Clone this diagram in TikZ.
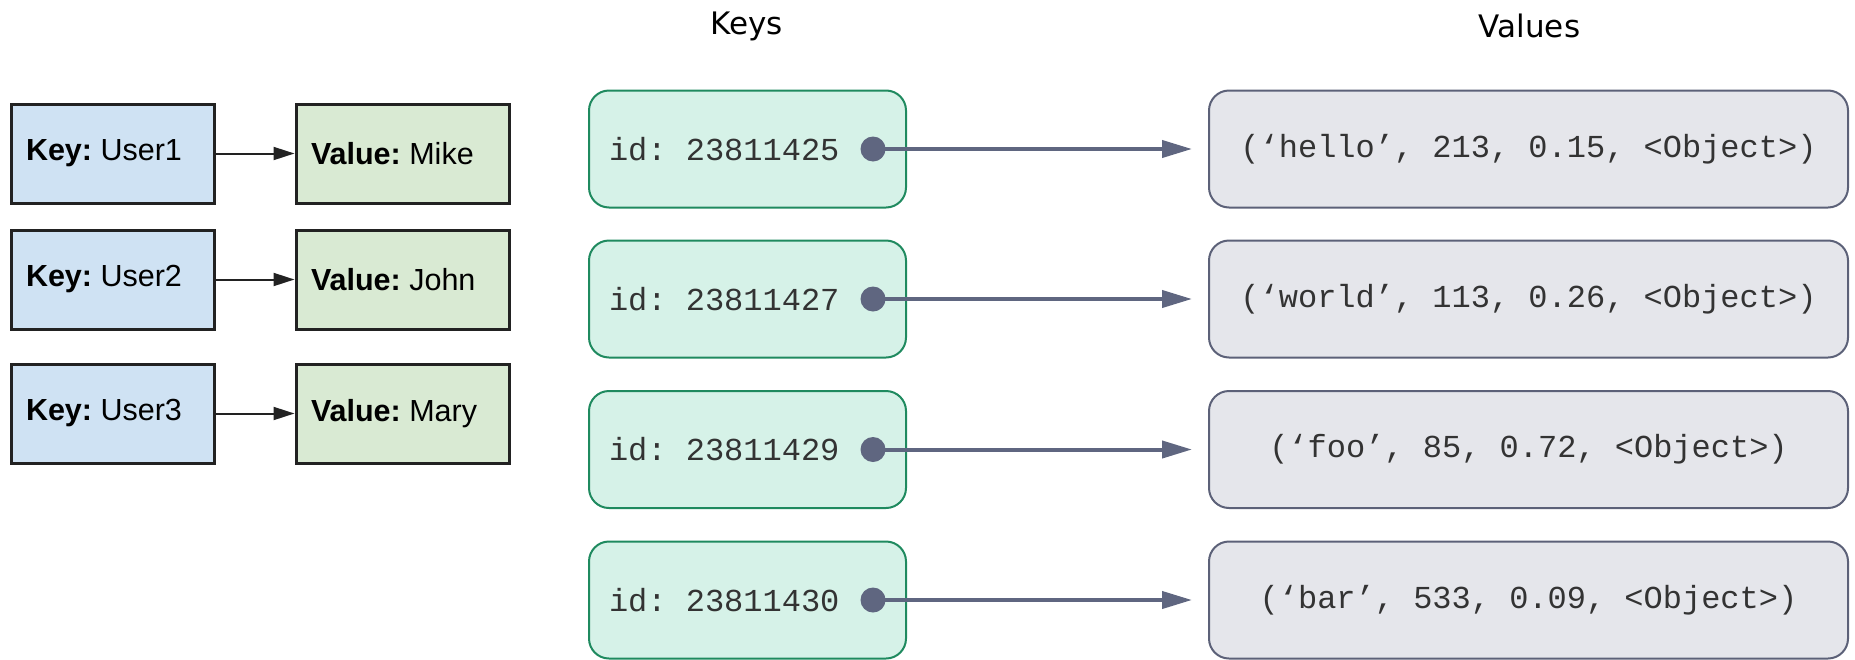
\documentclass[tikz,border=0pt]{standalone}
\usepackage{fontspec}
\setmainfont{Liberation Sans}
\newfontfamily\monofont{Liberation Mono}
\newfontfamily\headfont{DejaVu Sans}
\usetikzlibrary{arrows.meta}
\frenchspacing

\definecolor{oldkeyfill}{HTML}{CFE2F3}
\definecolor{oldvalfill}{HTML}{D9EAD3}
\definecolor{oldline}{HTML}{222222}
\definecolor{keyfill}{HTML}{D6F2E8}
\definecolor{keyline}{HTML}{1F8A5F}
\definecolor{valfill}{HTML}{E5E6EB}
\definecolor{valline}{HTML}{5C6178}
\definecolor{ptr}{HTML}{5F6680}

\tikzset{
  oldbox/.style={draw=oldline, line width=3pt, minimum height=99pt,
    inner xsep=15pt, inner ysep=0pt, align=flush left,
    font=\fontsize{30.5}{35}\selectfont\frenchspacing},
  oldkey/.style={oldbox, fill=oldkeyfill, text width=173pt},
  oldval/.style={oldbox, fill=oldvalfill, text width=183pt},
  oldarrow/.style={draw=oldline, line width=2pt,
    -{Triangle[length=21pt,width=13pt]}},
  keybox/.style={draw=keyline, fill=keyfill, line width=2pt,
    rounded corners=20pt, minimum height=117pt, inner xsep=20pt,
    inner ysep=0pt, text width=277pt, align=flush left,
    font=\monofont\fontsize{32}{38}\selectfont\frenchspacing, text=black!80},
  valbox/.style={draw=valline, fill=valfill, line width=2pt,
    rounded corners=20pt, minimum height=117pt, minimum width=639pt,
    inner sep=0pt, align=center,
    font=\monofont\fontsize{32}{38}\selectfont\frenchspacing, text=black!80},
  dot/.style={circle, fill=ptr, minimum size=25pt, inner sep=0pt},
  ptrarrow/.style={draw=ptr, line width=4pt,
    -{Triangle[length=30pt,width=17pt]}},
  header/.style={font=\headfont\fontsize{31}{36}\selectfont}
}

\begin{document}
\begin{tikzpicture}[x=1pt, y=-1pt]
\useasboundingbox (0,0) rectangle (1855,659);

% simple key/value pairs on the left
\node[oldkey] (k1) at (112.5,153.5) {\textbf{Key:} User1};
\node[oldval] (v1) at (402.5,153.5) {\textbf{Value:} Mike};
\node[oldkey] (k2) at (112.5,279.5) {\textbf{Key:} User2};
\node[oldval] (v2) at (402.5,279.5) {\textbf{Value:} John};
\node[oldkey] (k3) at (112.5,413.5) {\textbf{Key:} User3};
\node[oldval] (v3) at (402.5,413.5) {\textbf{Value:} Mary};
\draw[oldarrow] (k1.east) -- (v1.west);
\draw[oldarrow] (k2.east) -- (v2.west);
\draw[oldarrow] (k3.east) -- (v3.west);

% column headers
\node[header] (hk) at (746.5,26) {Keys};
\node[header] (hv) at (1529.5,26) {Values};

% key column
\node[keybox] (id1) at (747.5,149) {id: 23811425};
\node[keybox] (id2) at (747.5,299) {id: 23811427};
\node[keybox] (id3) at (747.5,449.5) {id: 23811429};
\node[keybox] (id4) at (747.5,600) {id: 23811430};

% value column
\node[valbox] (t1) at (1528.5,149) {(‘hello’, 213, 0.15, <Object>)};
\node[valbox] (t2) at (1528.5,299) {(‘world’, 113, 0.26, <Object>)};
\node[valbox] (t3) at (1528.5,449.5) {(‘foo’, 85, 0.72, <Object>)};
\node[valbox] (t4) at (1528.5,600) {(‘bar’, 533, 0.09, <Object>)};

% pointers from keys to values
\foreach \i in {1,2,3,4} {
  \node[dot] (d\i) at ([xshift=-34pt]id\i.east) {};
  \coordinate (e\i) at ([xshift=-16pt]t\i.west);
  \draw[ptrarrow] (d\i.center) -- (e\i);
}
\end{tikzpicture}
\end{document}
